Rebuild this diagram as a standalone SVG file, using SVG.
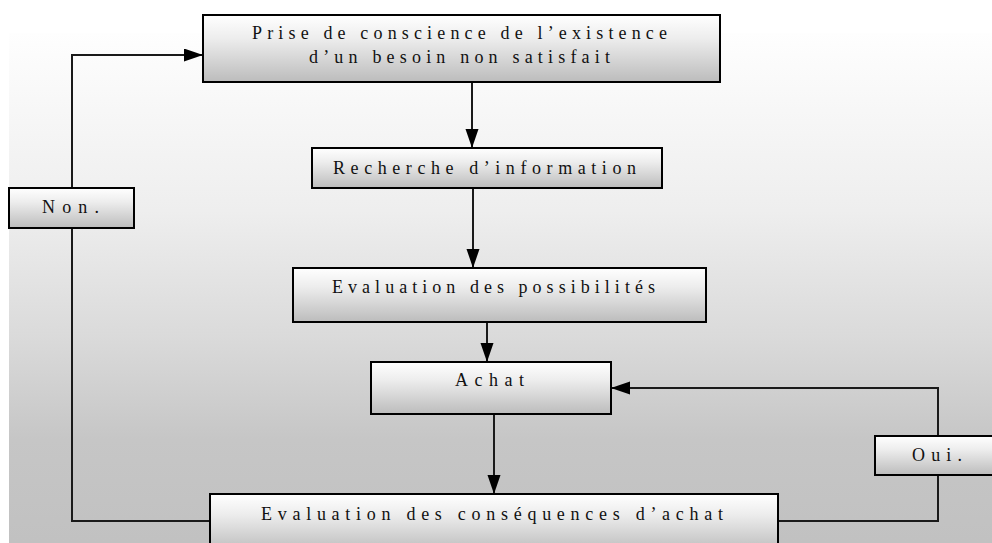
<svg xmlns="http://www.w3.org/2000/svg" width="992" height="543" viewBox="0 0 992 543">
  <defs>
    <linearGradient id="bg" gradientUnits="userSpaceOnUse" x1="0" y1="33" x2="0" y2="541">
      <stop offset="0" stop-color="#fefefe"/>
      <stop offset="0.35" stop-color="#eeeeee"/>
      <stop offset="0.6" stop-color="#dadada"/>
      <stop offset="0.8" stop-color="#c6c6c6"/>
      <stop offset="1" stop-color="#c1c1c1"/>
    </linearGradient>
    <linearGradient id="boxfill" x1="0" y1="0" x2="0" y2="1">
      <stop offset="0" stop-color="#ffffff"/>
      <stop offset="0.35" stop-color="#ededed"/>
      <stop offset="1" stop-color="#bcbcbc"/>
    </linearGradient>
    <marker id="arrow" markerUnits="userSpaceOnUse" markerWidth="20" markerHeight="14" refX="19" refY="6.5" orient="auto">
      <path d="M0,0 L19,6.5 L0,13 z" fill="#000"/>
    </marker>
    <style>
      .box { fill: url(#boxfill); stroke: #000; stroke-width: 2; }
      .lbl { font-family: "Liberation Serif", "Times New Roman", serif; font-size: 18px; fill: #111; }
      .wire { fill: none; stroke: #1a1a1a; stroke-width: 2; }
    </style>
  </defs>

  <!-- backdrop -->
  <rect x="0" y="0" width="992" height="543" fill="#ffffff"/>
  <rect x="9" y="33" width="983" height="510" fill="url(#bg)"/>

  <!-- connectors -->
  <g id="connectors">
    <line class="wire" x1="472" y1="82" x2="472" y2="148" marker-end="url(#arrow)"/>
    <line class="wire" x1="473" y1="188" x2="473" y2="268" marker-end="url(#arrow)"/>
    <line class="wire" x1="487" y1="322" x2="487" y2="362" marker-end="url(#arrow)"/>
    <line class="wire" x1="494" y1="414" x2="494" y2="494" marker-end="url(#arrow)"/>
    <polyline class="wire" points="778,521 938,521 938,475"/>
    <polyline class="wire" points="938,436 938,388 611,388" marker-end="url(#arrow)"/>
    <polyline class="wire" points="210,521 72,521 72,228"/>
    <polyline class="wire" points="72,188 72,55 203,55" marker-end="url(#arrow)"/>
  </g>

  <g id="node-besoin">
    <rect class="box" x="203" y="15" width="517" height="67"/>
    <text class="lbl" x="252" y="39" textLength="415" lengthAdjust="spacing">Prise de conscience de l’existence</text>
    <text class="lbl" x="309" y="63" textLength="301" lengthAdjust="spacing">d’un besoin non satisfait</text>
  </g>

  <g id="node-recherche">
    <rect class="box" x="312" y="148" width="350" height="40"/>
    <text class="lbl" x="333" y="174" textLength="303" lengthAdjust="spacing">Recherche d’information</text>
  </g>

  <g id="node-possibilites">
    <rect class="box" x="293" y="268" width="413" height="54"/>
    <text class="lbl" x="332" y="293" textLength="323" lengthAdjust="spacing">Evaluation des possibilités</text>
  </g>

  <g id="node-achat">
    <rect class="box" x="371" y="362" width="240" height="52"/>
    <text class="lbl" x="455" y="386" textLength="69" lengthAdjust="spacing">Achat</text>
  </g>

  <g id="node-consequences">
    <rect class="box" x="210" y="494" width="568" height="58"/>
    <text class="lbl" x="261" y="520" textLength="462" lengthAdjust="spacing">Evaluation des conséquences d’achat</text>
  </g>

  <g id="node-non">
    <rect class="box" x="9" y="188" width="125" height="40"/>
    <text class="lbl" x="42" y="213" textLength="57" lengthAdjust="spacing">Non.</text>
  </g>

  <g id="node-oui">
    <rect class="box" x="875" y="436" width="126" height="39"/>
    <text class="lbl" x="912" y="461" textLength="50" lengthAdjust="spacing">Oui.</text>
  </g>
</svg>
